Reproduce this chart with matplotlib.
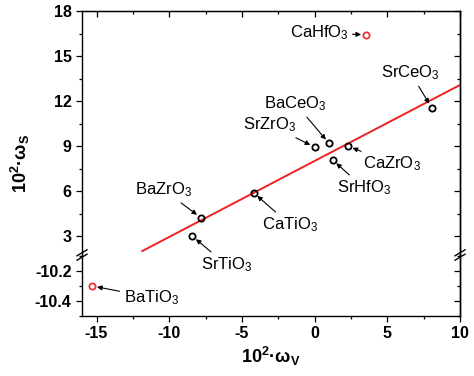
import numpy as np
import matplotlib
matplotlib.use('Agg')
from matplotlib import pyplot as plt
from matplotlib.ticker import MultipleLocator
from matplotlib.lines import Line2D

plt.rcParams['font.family'] = 'Liberation Sans'
plt.rcParams['mathtext.fontset'] = 'custom'
plt.rcParams['mathtext.rm'] = 'Liberation Sans'
plt.rcParams['mathtext.it'] = 'Liberation Sans:italic'
plt.rcParams['mathtext.bf'] = 'Liberation Sans:bold'
plt.rcParams['mathtext.default'] = 'regular'
plt.rcParams['axes.unicode_minus'] = False

# points near the fit line (upper panel)
names = ['SrZrO3', 'BaCeO3', 'CaZrO3', 'SrHfO3', 'SrCeO3', 'BaZrO3', 'SrTiO3', 'CaTiO3']
wv = [0.0, 0.99, 2.3, 1.24, 8.05, -7.82, -8.42, -4.2]
ws = [8.93, 9.18, 9.0, 8.07, 11.55, 4.22, 3.0, 5.89]
label_x = [-3.06, -1.3, 5.31, 3.38, 6.6, -10.38, -6.07, -1.67]
label_y = [10.4, 11.8, 7.8, 6.2, 13.87, 6.07, 1.07, 3.73]

# outliers (red)
out_names = ['CaHfO3', 'BaTiO3']
out_wv = [3.53, -15.3]
out_ws = [16.42, -10.3]
out_label_x = [0.3, -11.24]
out_label_y = [16.53, -10.375]

# linear fit
fit_wv = [-11.85, 10.0]
fit_ws = [2.0, 13.07]

def sub3(s):
    return s[:-1] + '$_3$'

fig = plt.figure(figsize=(4.74, 3.76), dpi=100)
L, R = 0.173, 0.9705
top, brk, bot = 0.9707, 0.3218, 0.1596
ax1 = fig.add_axes([L, brk, R - L, top - brk])
ax2 = fig.add_axes([L, bot, R - L, brk - bot])
ax2.patch.set_visible(False)

for ax in (ax1, ax2):
    ax.set_xlim(-16, 10)
    ax.xaxis.set_major_locator(MultipleLocator(5))
    ax.xaxis.set_minor_locator(MultipleLocator(2.5))
    for sp in ax.spines.values():
        sp.set_linewidth(1.0)
    ax.tick_params(which='major', length=4, width=0.9, direction='out', labelsize=11.5)
    ax.tick_params(which='minor', length=2.5, width=0.9, direction='out')
    for lab in ax.get_xticklabels() + ax.get_yticklabels():
        lab.set_fontweight('bold')

ax1.set_ylim(1.733, 18)
ax1.yaxis.set_major_locator(MultipleLocator(3))
ax1.yaxis.set_minor_locator(MultipleLocator(1.5))
ax1.spines['bottom'].set_visible(False)
ax1.tick_params(axis='x', which='both', bottom=False, labelbottom=False)

ax2.set_ylim(-10.5, -10.093)
ax2.yaxis.set_major_locator(MultipleLocator(0.2))
ax2.yaxis.set_minor_locator(MultipleLocator(0.1))
ax2.spines['top'].set_visible(False)

# mirrored ticks pointing inward
for ax in (ax1, ax2):
    sec = ax.secondary_yaxis('right')
    sec.yaxis.set_major_locator(ax.yaxis.get_major_locator())
    sec.yaxis.set_minor_locator(ax.yaxis.get_minor_locator())
    sec.tick_params(which='major', direction='in', length=4, width=0.9, labelright=False)
    sec.tick_params(which='minor', direction='in', length=2.5, width=0.9)
    sec.spines['right'].set_linewidth(1.0)
secx = ax1.secondary_xaxis('top')
secx.xaxis.set_major_locator(MultipleLocator(5))
secx.xaxis.set_minor_locator(MultipleLocator(2.5))
secx.tick_params(which='major', direction='in', length=4, width=0.9, labeltop=False)
secx.tick_params(which='minor', direction='in', length=2.5, width=0.9)

ax1.plot(fit_wv, fit_ws, color='#ee2222', lw=1.4, zorder=2)

ax1.plot(wv, ws, 'o', ms=4.5, mfc='none', mec='black', mew=1.3, zorder=3)
arrow = dict(arrowstyle='-|>', color='black', lw=0.8, mutation_scale=7, shrinkA=1, shrinkB=3.5)
for n, x, y, tx, ty in zip(names, wv, ws, label_x, label_y):
    ax1.annotate(sub3(n), xy=(x, y), xytext=(tx, ty), ha='center', va='center',
                 fontsize=12, arrowprops=arrow, annotation_clip=False)

for n, x, y, tx, ty in zip(out_names, out_wv, out_ws, out_label_x, out_label_y):
    ax = ax1 if y > 0 else ax2
    ax.plot([x], [y], 'o', ms=4.5, mfc='none', mec='#ee3333', mew=1.3, zorder=3)
    ax.annotate(sub3(n), xy=(x, y), xytext=(tx, ty), ha='center', va='center',
                fontsize=12, arrowprops=arrow, annotation_clip=False)

# axis break marks
dx, dy, off = 5 / 474, 3 / 376, 2.2 / 376
for xs in (L, R):
    for o in (-off, off):
        fig.add_artist(Line2D([xs - dx, xs + dx], [brk + o - dy, brk + o + dy],
                              color='black', lw=1.0, transform=fig.transFigure))

fig.text(0.5 * (L + R), 0.053, '10$^2$·ω$_V$', ha='center', va='center',
         fontsize=13, fontweight='bold')
fig.text(0.043, 0.5 * (top + bot), '10$^2$·ω$_S$', ha='center', va='center',
         rotation=90, fontsize=13, fontweight='bold')

fig.savefig('out.png', dpi=100)
